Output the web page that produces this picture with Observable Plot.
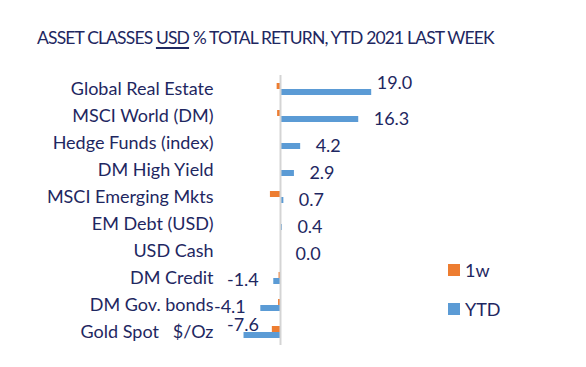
<!DOCTYPE html>
<html><head><meta charset="utf-8">
<script src="https://cdn.jsdelivr.net/npm/d3@7"></script>
<script src="https://cdn.jsdelivr.net/npm/@observablehq/plot@0.6"></script>
<style>
body{margin:0;background:#fff;font-family:Lato,"Open Sans",sans-serif;}
#wrap{position:relative;width:586px;height:367px;}
#title{position:absolute;left:37px;top:27px;font-size:17.5px;letter-spacing:-0.85px;color:#1e2761;white-space:nowrap;}
#title u{text-decoration-thickness:2px;text-underline-offset:3px;}
#legend{position:absolute;left:448px;top:258px;font-size:18px;color:#1e2761;}
#legend div{display:flex;align-items:center;height:24px;margin-bottom:15px;}
#legend span.sw{display:inline-block;width:12px;height:12px;margin-right:5px;}
</style></head>
<body><div id="wrap"><div id="title">ASSET CLASSES <u>USD</u> % TOTAL RETURN, YTD 2021 LAST WEEK</div>
<div id="legend"></div></div>
<script>
const categories = ["Global Real Estate","MSCI World (DM)","Hedge Funds (index)","DM High Yield","MSCI Emerging Mkts","EM Debt (USD)","USD Cash","DM Credit","DM Gov. bonds","Gold Spot   $/Oz"];
const ytd = [19.0, 16.3, 4.2, 2.9, 0.7, 0.4, 0.0, -1.4, -4.1, -7.6];
const week = [-0.7, -0.6, 0.0, 0.0, -2.1, 0.0, 0.0, -0.3, -0.4, -1.7];
const series = ["1w", "YTD"];
const colors = ["#ED7D31", "#5B9BD5"];

const rows = [];
categories.forEach((c, i) => {
  rows.push({category: c, series: "1w", value: week[i]});
  rows.push({category: c, series: "YTD", value: ytd[i]});
});
const ytdRows = rows.filter(d => d.series === "YTD");
const maxV = d3.max(ytd), minV = d3.min(ytd);
const normal = ytdRows.filter(d => d.value !== maxV && d.value !== minV);
const navy = "#1e2761";
const font = "Lato, 'Open Sans', sans-serif";

const chart = Plot.plot({
  width: 586, height: 367,
  marginTop: 72, marginBottom: 20, marginLeft: 232, marginRight: 186,
  style: {fontFamily: font, fontSize: "18px", color: navy, background: "transparent"},
  x: {domain: [-10, 25], axis: null},
  y: {domain: series, axis: null, paddingInner: 0, paddingOuter: 0.95},
  fy: {domain: categories, axis: null, padding: 0},
  color: {domain: series, range: colors},
  marks: [
    Plot.barX(rows, {fy: "category", y: "series", x: "value", fill: "series"}),
    Plot.text(categories, {fy: d => d, text: d => d, frameAnchor: "left", textAnchor: "end", dx: -19, fill: navy}),
    Plot.text(normal.filter(d => d.value >= 0), {fy: "category", y: "series", x: "value", text: d => d.value.toFixed(1), textAnchor: "start", dx: 15, fill: navy}),
    Plot.text(normal.filter(d => d.value < 0), {fy: "category", y: "series", x: "value", text: d => d.value.toFixed(1), textAnchor: "end", dx: -15, dy: -1, fill: navy}),
    // largest label nudged up (as in the source chart)
    Plot.text(ytdRows.filter(d => d.value === maxV), {fy: "category", y: "series", x: "value", text: d => d.value.toFixed(1), textAnchor: "start", dx: 5, dy: -9, fill: navy}),
    // most negative label nudged up-right to clear the category text
    Plot.text(ytdRows.filter(d => d.value === minV), {fy: "category", y: "series", x: "value", text: d => d.value.toFixed(1), textAnchor: "start", dx: -17, dy: -10, fill: navy}),
    Plot.ruleX([0], {stroke: "#d4d4d4", strokeWidth: 2, facetAnchor: null})
  ]
});
document.getElementById("wrap").prepend(chart);
chart.style.position = "absolute"; chart.style.left = "0"; chart.style.top = "0";

const leg = document.getElementById("legend");
series.forEach((s, i) => {
  const row = document.createElement("div");
  row.innerHTML = `<span class="sw" style="background:${colors[i]}"></span>${s}`;
  leg.appendChild(row);
});
</script></body></html>
